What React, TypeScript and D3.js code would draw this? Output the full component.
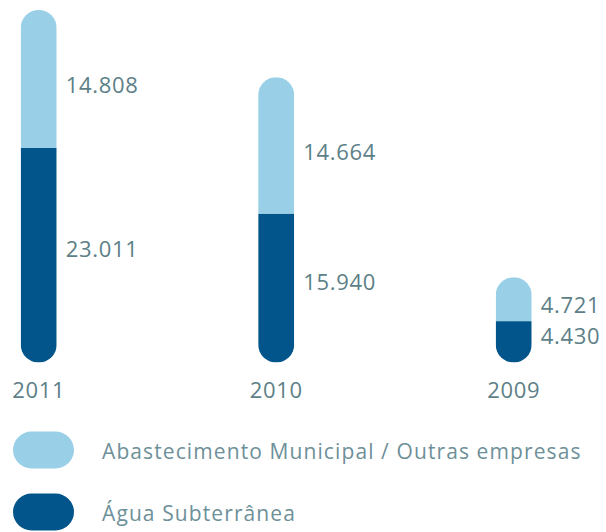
import React from "react";
import * as d3 from "d3";

const years = ["2011", "2010", "2009"];
const abastecimento = [14808, 14664, 4721];
const subterranea = [23011, 15940, 4430];
const valueLabelsTop = ["14.808", "14.664", "4.721"];
const valueLabelsBottom = ["23.011", "15.940", "4.430"];
const legendLabels = ["Abastecimento Municipal / Outras empresas", "Água Subterrânea"];

const LIGHT = "#99cfe7";
const DARK = "#02558a";
const TEXT = "#5d7f87";
const LEGEND_TEXT = "#6e9098";
const FONT = "'Open Sans', 'Noto Sans', sans-serif";

export default function App() {
  const W = 606;
  const H = 532;
  const barW = 36;
  const totals = years.map((_, i) => abastecimento[i] + subterranea[i]);
  const x = d3.scalePoint<string>().domain(years).range([38.7, 513.7]);
  const y = d3.scaleLinear().domain([0, d3.max(totals) as number]).range([362.5, 10]);
  const legendColors = [LIGHT, DARK];

  return (
    <svg width={W} height={H} style={{ position: "absolute", left: 0, top: 0 }}>
      <defs>
        {years.map((yr, i) => (
          <clipPath id={`clip-${yr}`} key={yr}>
            <rect
              x={(x(yr) as number) - barW / 2}
              y={y(totals[i])}
              width={barW}
              height={y(0) - y(totals[i])}
              rx={barW / 2}
              ry={barW / 2}
            />
          </clipPath>
        ))}
      </defs>
      {years.map((yr, i) => {
        const cx = x(yr) as number;
        const yTop = y(totals[i]);
        const ySplit = y(subterranea[i]);
        const yBot = y(0);
        return (
          <g key={yr}>
            <g clipPath={`url(#clip-${yr})`}>
              <rect x={cx - barW / 2} y={yTop} width={barW} height={ySplit - yTop} fill={LIGHT} />
              <rect x={cx - barW / 2} y={ySplit} width={barW} height={yBot - ySplit} fill={DARK} />
            </g>
            <text
              x={cx + barW / 2 + 9}
              y={(yTop + ySplit) / 2 + 5}
              dominantBaseline="central"
              fontFamily={FONT}
              fontSize={22}
              letterSpacing={0.7}
              fill={TEXT}
            >
              {valueLabelsTop[i]}
            </text>
            <text
              x={cx + barW / 2 + 9}
              y={(ySplit + yBot) / 2 - 7}
              dominantBaseline="central"
              fontFamily={FONT}
              fontSize={22}
              letterSpacing={0.7}
              fill={TEXT}
            >
              {valueLabelsBottom[i]}
            </text>
            <text
              x={cx}
              y={398}
              textAnchor="middle"
              fontFamily={FONT}
              fontSize={22}
              letterSpacing={0.7}
              fill={TEXT}
            >
              {yr}
            </text>
          </g>
        );
      })}
      {legendLabels.map((lab, i) => {
        const cy = 450 + i * 62;
        return (
          <g key={lab}>
            <rect x={13} y={cy - 18.5} width={61} height={37} rx={18.5} ry={18.5} fill={legendColors[i]} />
            <text x={102} y={cy + 9} fontFamily={FONT} fontSize={21} letterSpacing={1.1} fill={LEGEND_TEXT}>
              {lab}
            </text>
          </g>
        );
      })}
    </svg>
  );
}
